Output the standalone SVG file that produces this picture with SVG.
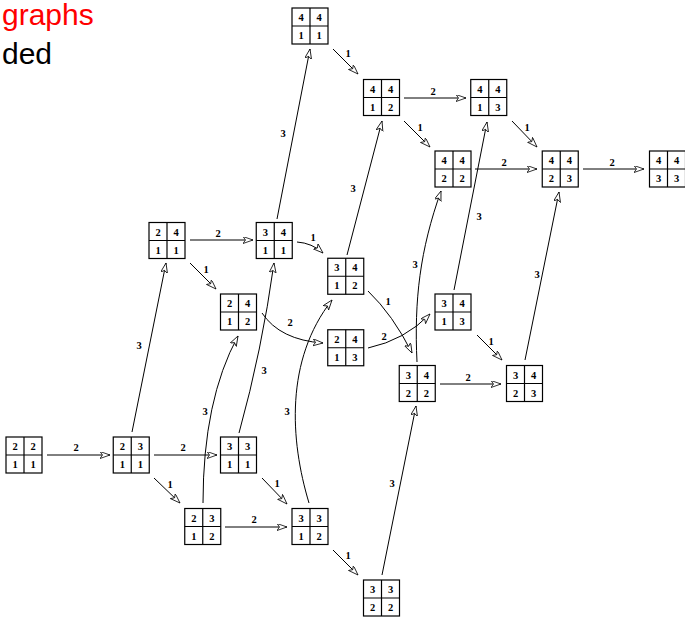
<svg xmlns="http://www.w3.org/2000/svg" width="685" height="617" viewBox="0 0 685 617">
<style>
.box{fill:#fff;stroke:#000;stroke-width:1.2}
.div{stroke:#000;stroke-width:1.2}
.n{font-family:"Liberation Serif",serif;font-weight:bold;font-size:10.5px;text-anchor:middle}
.e{fill:none;stroke:#000;stroke-width:1;marker-end:url(#arr)}
.l{font-family:"Liberation Serif",serif;font-weight:bold;font-size:10.5px;text-anchor:middle}
.t{font-family:"Liberation Sans",Arial,sans-serif;font-size:30px}
</style>
<defs>
<marker id="arr" markerUnits="userSpaceOnUse" markerWidth="12" markerHeight="8" refX="10" refY="3.5" orient="auto">
<path d="M0,0 L10,3.5 L0,7 L2.5,3.5 z" fill="#fff" stroke="#000" stroke-width="0.8" stroke-linejoin="miter"/>
</marker>
<g id="cell">
<rect class="box" x="0" y="0" width="36" height="36"/>
<line class="div" x1="18" y1="0" x2="18" y2="36"/>
<line class="div" x1="0" y1="18" x2="36" y2="18"/>
</g>
</defs>
<rect width="685" height="617" fill="#fff"/>
<text class="t" x="2" y="25" fill="#ff0000">graphs</text>
<text class="t" x="2" y="64" fill="#000">ded</text>

<g id="connectors">
<path class="e" d="M47,455 L110,455"/><text class="l" x="76" y="451">2</text>
<path class="e" d="M154,455 L217,455"/><text class="l" x="183" y="451">2</text>
<path class="e" d="M154,478 L180,503"/><text class="l" x="170" y="488">1</text>
<path class="e" d="M132,432 L166,263"/><text class="l" x="139" y="349">3</text>
<path class="e" d="M262,478 L287,504"/><text class="l" x="277" y="487">1</text>
<path class="e" d="M239,433 Q262,350 274,263"/><text class="l" x="264" y="374">3</text>
<path class="e" d="M225,527 L287,527"/><text class="l" x="254" y="523">2</text>
<path class="e" d="M203,503 Q203,400 238,336"/><text class="l" x="205" y="415">3</text>
<path class="e" d="M333,550 L358,575"/><text class="l" x="348" y="559">1</text>
<path class="e" d="M309,503 C290,440 285,360 332,300"/><text class="l" x="287" y="415">3</text>
<path class="e" d="M382,575 L416,406"/><text class="l" x="392" y="487">3</text>
<path class="e" d="M190,240 L253,240"/><text class="l" x="218" y="237">2</text>
<path class="e" d="M190,263 L216,289"/><text class="l" x="206" y="273">1</text>
<path class="e" d="M277,219 L310,49"/><text class="l" x="283" y="137">3</text>
<path class="e" d="M297,242 Q312,243 323,253"/><text class="l" x="313" y="241">1</text>
<path class="e" d="M262,313 Q280,340 323,343"/><text class="l" x="290" y="326">2</text>
<path class="e" d="M368,291 Q393,315 412,353"/><text class="l" x="388" y="305">1</text>
<path class="e" d="M347,255 L382,121"/><text class="l" x="353" y="192">3</text>
<path class="e" d="M368,348 Q405,340 430,314"/><text class="l" x="384" y="340">2</text>
<path class="e" d="M477,335 L502,360"/><text class="l" x="491" y="345">1</text>
<path class="e" d="M454,290 L487,122"/><text class="l" x="479" y="220">3</text>
<path class="e" d="M440,384 L501,384"/><text class="l" x="468" y="381">2</text>
<path class="e" d="M417,362 C414,300 420,250 441,191"/><text class="l" x="415" y="268">3</text>
<path class="e" d="M525,360 L559,192"/><text class="l" x="537" y="278">3</text>
<path class="e" d="M333,49 L358,74"/><text class="l" x="348" y="57">1</text>
<path class="e" d="M404,98 L466,98"/><text class="l" x="433" y="95">2</text>
<path class="e" d="M404,121 L430,147"/><text class="l" x="420" y="131">1</text>
<path class="e" d="M512,121 L537,147"/><text class="l" x="527" y="131">1</text>
<path class="e" d="M475,169 L537,169"/><text class="l" x="504" y="166">2</text>
<path class="e" d="M583,169 L644,169"/><text class="l" x="612" y="166">2</text>
</g>

<g id="n2211" transform="translate(6,437)"><use href="#cell"/><text class="n" x="9" y="13">2</text><text class="n" x="27" y="13">2</text><text class="n" x="9" y="31">1</text><text class="n" x="27" y="31">1</text></g>
<g id="n2311" transform="translate(113.25,437)"><use href="#cell"/><text class="n" x="9" y="13">2</text><text class="n" x="27" y="13">3</text><text class="n" x="9" y="31">1</text><text class="n" x="27" y="31">1</text></g>
<g id="n3311" transform="translate(220.5,437)"><use href="#cell"/><text class="n" x="9" y="13">3</text><text class="n" x="27" y="13">3</text><text class="n" x="9" y="31">1</text><text class="n" x="27" y="31">1</text></g>
<g id="n2312" transform="translate(184.75,508.5)"><use href="#cell"/><text class="n" x="9" y="13">2</text><text class="n" x="27" y="13">3</text><text class="n" x="9" y="31">1</text><text class="n" x="27" y="31">2</text></g>
<g id="n3312" transform="translate(292,508.5)"><use href="#cell"/><text class="n" x="9" y="13">3</text><text class="n" x="27" y="13">3</text><text class="n" x="9" y="31">1</text><text class="n" x="27" y="31">2</text></g>
<g id="n3322" transform="translate(363.5,580)"><use href="#cell"/><text class="n" x="9" y="13">3</text><text class="n" x="27" y="13">3</text><text class="n" x="9" y="31">2</text><text class="n" x="27" y="31">2</text></g>
<g id="n2411" transform="translate(149,222.5)"><use href="#cell"/><text class="n" x="9" y="13">2</text><text class="n" x="27" y="13">4</text><text class="n" x="9" y="31">1</text><text class="n" x="27" y="31">1</text></g>
<g id="n3411" transform="translate(256.25,222.5)"><use href="#cell"/><text class="n" x="9" y="13">3</text><text class="n" x="27" y="13">4</text><text class="n" x="9" y="31">1</text><text class="n" x="27" y="31">1</text></g>
<g id="n2412" transform="translate(220.5,294)"><use href="#cell"/><text class="n" x="9" y="13">2</text><text class="n" x="27" y="13">4</text><text class="n" x="9" y="31">1</text><text class="n" x="27" y="31">2</text></g>
<g id="n3412" transform="translate(327.75,258.25)"><use href="#cell"/><text class="n" x="9" y="13">3</text><text class="n" x="27" y="13">4</text><text class="n" x="9" y="31">1</text><text class="n" x="27" y="31">2</text></g>
<g id="n2413" transform="translate(327.75,329.75)"><use href="#cell"/><text class="n" x="9" y="13">2</text><text class="n" x="27" y="13">4</text><text class="n" x="9" y="31">1</text><text class="n" x="27" y="31">3</text></g>
<g id="n3413" transform="translate(435,294)"><use href="#cell"/><text class="n" x="9" y="13">3</text><text class="n" x="27" y="13">4</text><text class="n" x="9" y="31">1</text><text class="n" x="27" y="31">3</text></g>
<g id="n3422" transform="translate(399.25,365.5)"><use href="#cell"/><text class="n" x="9" y="13">3</text><text class="n" x="27" y="13">4</text><text class="n" x="9" y="31">2</text><text class="n" x="27" y="31">2</text></g>
<g id="n3423" transform="translate(506.5,365.5)"><use href="#cell"/><text class="n" x="9" y="13">3</text><text class="n" x="27" y="13">4</text><text class="n" x="9" y="31">2</text><text class="n" x="27" y="31">3</text></g>
<g id="n4411" transform="translate(292,8)"><use href="#cell"/><text class="n" x="9" y="13">4</text><text class="n" x="27" y="13">4</text><text class="n" x="9" y="31">1</text><text class="n" x="27" y="31">1</text></g>
<g id="n4412" transform="translate(363.5,79.5)"><use href="#cell"/><text class="n" x="9" y="13">4</text><text class="n" x="27" y="13">4</text><text class="n" x="9" y="31">1</text><text class="n" x="27" y="31">2</text></g>
<g id="n4413" transform="translate(470.75,79.5)"><use href="#cell"/><text class="n" x="9" y="13">4</text><text class="n" x="27" y="13">4</text><text class="n" x="9" y="31">1</text><text class="n" x="27" y="31">3</text></g>
<g id="n4422" transform="translate(435,151)"><use href="#cell"/><text class="n" x="9" y="13">4</text><text class="n" x="27" y="13">4</text><text class="n" x="9" y="31">2</text><text class="n" x="27" y="31">2</text></g>
<g id="n4423" transform="translate(542.25,151)"><use href="#cell"/><text class="n" x="9" y="13">4</text><text class="n" x="27" y="13">4</text><text class="n" x="9" y="31">2</text><text class="n" x="27" y="31">3</text></g>
<g id="n4433" transform="translate(649.5,151)"><use href="#cell"/><text class="n" x="9" y="13">4</text><text class="n" x="27" y="13">4</text><text class="n" x="9" y="31">3</text><text class="n" x="27" y="31">3</text></g>
</svg>
